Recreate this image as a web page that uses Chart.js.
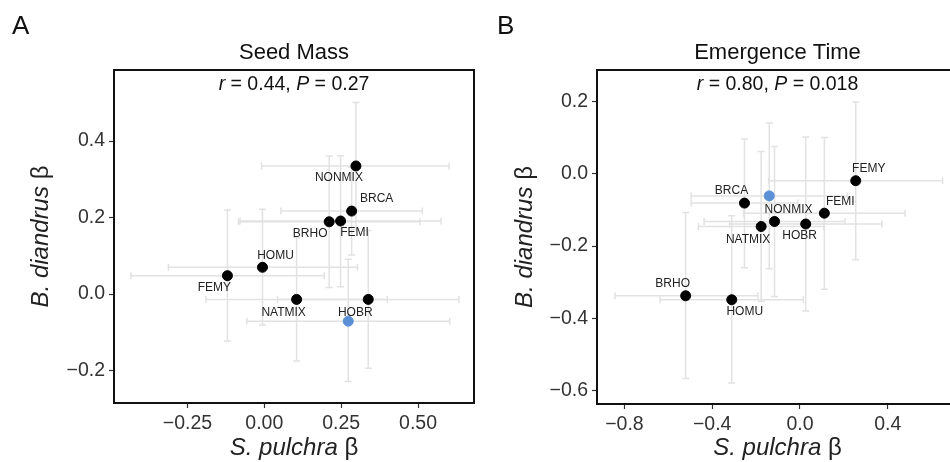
<!DOCTYPE html>
<html>
<head>
<meta charset="utf-8">
<script src="https://cdn.jsdelivr.net/npm/chart.js@4.4.1/dist/chart.umd.min.js"></script>
<style>
  html, body { margin: 0; padding: 0; background: #fff; overflow: hidden; }
  body { width: 950px; height: 462px; position: relative; }
  .panel { position: absolute; top: 0; height: 462px; }
  #panelA { left: 0; width: 480px; }
  #panelB { left: 480px; width: 490px; }
</style>
</head>
<body>
<div class="panel" id="panelA"><canvas id="chartA" width="480" height="462"></canvas></div>
<div class="panel" id="panelB"><canvas id="chartB" width="490" height="462"></canvas></div>
<script>
// A: seed mass
const seedSpecies = ["NONMIX", "BRCA", "BRHO", "FEMI", "HOMU", "FEMY", "NATMIX", "HOBR"];
const seedX   = [0.298, 0.284, 0.211, 0.248, -0.006, -0.120, 0.105, 0.338];
const seedXLo = [-0.009, 0.054, -0.084, -0.079, -0.312, -0.434, -0.190, 0.043];
const seedXHi = [0.601, 0.514, 0.506, 0.575, 0.303, 0.195, 0.400, 0.633];
const seedY   = [0.335, 0.217, 0.189, 0.191, 0.070, 0.048, -0.014, -0.014];
const seedYLo = [0.169, 0.102, 0.017, 0.019, -0.081, -0.123, -0.175, -0.194];
const seedYHi = [0.501, 0.332, 0.361, 0.362, 0.222, 0.220, 0.147, 0.166];
const seedRefXY   = [0.273, -0.071];
const seedRefXErr = [-0.057, 0.603];
const seedRefYErr = [-0.229, 0.091];
const seedXTicks = [-0.25, 0, 0.25, 0.5];
const seedYTicks = [-0.2, 0, 0.2, 0.4];

// B: emergence time
const emergSpecies = ["FEMY", "BRCA", "FEMI", "NONMIX", "HOBR", "NATMIX", "BRHO", "HOMU"];
const emergX   = [0.254, -0.253, 0.111, -0.116, 0.026, -0.177, -0.521, -0.311];
const emergXLo = [-0.142, -0.496, -0.257, -0.437, -0.321, -0.463, -0.843, -0.638];
const emergXHi = [0.650, -0.010, 0.479, 0.205, 0.373, 0.109, -0.192, 0.015];
const emergY   = [-0.019, -0.081, -0.109, -0.132, -0.139, -0.146, -0.338, -0.349];
const emergYLo = [-0.238, -0.260, -0.320, -0.340, -0.380, -0.354, -0.567, -0.580];
const emergYHi = [0.199, 0.097, 0.101, 0.076, 0.102, 0.062, -0.107, -0.116];
const emergRefXY   = [-0.140, -0.061];
const emergRefXErr = [-0.496, 0.216];
const emergRefYErr = [-0.263, 0.141];
const emergXTicks = [-0.8, -0.4, 0, 0.4];
const emergYTicks = [-0.6, -0.4, -0.2, 0, 0.2];

// label placement (pixel offsets from the point)
const seedLabelOffsets  = [[-17, 12], [25, -12], [-19, 12], [14, 12], [13, -12], [-13, 12], [-13, 13], [-13, 13]];
const emergLabelOffsets = [[13, -12], [-13, -12], [16, -12], [14, -12], [-6, 12], [-13, 13], [-13, -12], [13, 12]];

const FONT = '"Liberation Sans", Arial, Helvetica, sans-serif';
const BAR_COLOR = "#e2e2e2";
const TEXT_COLOR = "#333333";
const BLUE = "#5b8fd6";

function fmt(v, d) {
  const s = Math.abs(v).toFixed(d);
  return v < -1e-9 ? "\u2212" + s : s;
}

function drawRich(ctx, parts, x, y, size) {
  let w = 0;
  parts.forEach(p => {
    ctx.font = (p.italic ? "italic " : "") + size + "px " + FONT;
    w += ctx.measureText(p.t).width;
  });
  let cx = x - w / 2;
  ctx.textAlign = "left";
  ctx.textBaseline = "middle";
  parts.forEach(p => {
    ctx.font = (p.italic ? "italic " : "") + size + "px " + FONT;
    ctx.fillText(p.t, cx, y);
    cx += ctx.measureText(p.t).width;
  });
}

function errorBar(ctx, x1, y1, x2, y2, horizontal) {
  const cap = 3.5;
  ctx.beginPath();
  ctx.moveTo(x1, y1);
  ctx.lineTo(x2, y2);
  if (horizontal) {
    ctx.moveTo(x1, y1 - cap); ctx.lineTo(x1, y1 + cap);
    ctx.moveTo(x2, y2 - cap); ctx.lineTo(x2, y2 + cap);
  } else {
    ctx.moveTo(x1 - cap, y1); ctx.lineTo(x1 + cap, y1);
    ctx.moveTo(x2 - cap, y2); ctx.lineTo(x2 + cap, y2);
  }
  ctx.stroke();
}

function makeDecor(p) {
  return {
    id: "decor" + p.letter,
    beforeDatasetsDraw(chart) {
      const ctx = chart.ctx, xs = chart.scales.x, ys = chart.scales.y;
      ctx.save();
      ctx.strokeStyle = BAR_COLOR;
      ctx.lineWidth = 1.5;
      const xArr = p.x.concat([p.ref[0]]), yArr = p.y.concat([p.ref[1]]);
      const xLo = p.xLo.concat([p.refXErr[0]]), xHi = p.xHi.concat([p.refXErr[1]]);
      const yLo = p.yLo.concat([p.refYErr[0]]), yHi = p.yHi.concat([p.refYErr[1]]);
      xArr.forEach((xv, i) => {
        const px = xs.getPixelForValue(xv), py = ys.getPixelForValue(yArr[i]);
        errorBar(ctx, xs.getPixelForValue(xLo[i]), py, xs.getPixelForValue(xHi[i]), py, true);
        errorBar(ctx, px, ys.getPixelForValue(yLo[i]), px, ys.getPixelForValue(yHi[i]), false);
      });
      ctx.restore();
    },
    afterDatasetsDraw(chart) {
      const ctx = chart.ctx, xs = chart.scales.x, ys = chart.scales.y, a = chart.chartArea;
      ctx.save();
      ctx.fillStyle = "#222";
      ctx.font = "12px " + FONT;
      ctx.textAlign = "center";
      ctx.textBaseline = "middle";
      p.species.forEach((name, i) => {
        const off = p.offsets[i];
        ctx.fillText(name, xs.getPixelForValue(p.x[i]) + off[0], ys.getPixelForValue(p.y[i]) + off[1]);
      });
      ctx.strokeStyle = "#111";
      ctx.lineWidth = 2;
      ctx.strokeRect(a.left, a.top, a.right - a.left, a.bottom - a.top);
      ctx.restore();
    },
    afterDraw(chart) {
      const ctx = chart.ctx, a = chart.chartArea;
      const cx = (a.left + a.right) / 2, cy = (a.top + a.bottom) / 2;
      ctx.save();
      ctx.fillStyle = "#111";
      ctx.font = "26px " + FONT;
      ctx.textAlign = "left";
      ctx.textBaseline = "middle";
      ctx.fillText(p.letter, p.letterX, 27);
      ctx.textAlign = "center";
      ctx.font = "22px " + FONT;
      ctx.fillText(p.title, cx, 53);
      drawRich(ctx, p.stat, cx, 85, 19.5);
      ctx.fillStyle = "#222";
      drawRich(ctx, [{ t: "S. pulchra", italic: true }, { t: " \u03b2" }], cx, 448, 24);
      ctx.translate(p.yTitleX, cy);
      ctx.rotate(-Math.PI / 2);
      drawRich(ctx, [{ t: "B. diandrus", italic: true }, { t: " \u03b2" }], 0, 0, 24);
      ctx.restore();
    }
  };
}

function axis(pos, min, max, ticks, decimals, size) {
  return {
    type: "linear",
    position: pos,
    min: min,
    max: max,
    afterBuildTicks: s => { s.ticks = ticks.map(v => ({ value: v })); },
    afterFit: s => { if (pos === "bottom") s.height = size; else s.width = size; },
    grid: { display: true, drawOnChartArea: false, drawTicks: true, tickLength: 5, tickColor: "#333", tickWidth: 1.2 },
    border: { display: false },
    ticks: {
      color: TEXT_COLOR,
      font: { family: FONT, size: 19.5 },
      padding: 4,
      autoSkip: false,
      maxRotation: 0,
      callback: v => fmt(v, decimals)
    }
  };
}

function makeChart(id, p) {
  const black = p.x.map((xv, i) => ({ x: xv, y: p.y[i] }));
  new Chart(document.getElementById(id), {
    type: "scatter",
    data: {
      datasets: [
        { data: black, backgroundColor: "#000", borderColor: "#000", pointRadius: 5, pointHoverRadius: 5 },
        { data: [{ x: p.ref[0], y: p.ref[1] }], backgroundColor: BLUE, borderColor: BLUE, pointRadius: 5, pointHoverRadius: 5 }
      ]
    },
    options: {
      responsive: false,
      animation: false,
      layout: { padding: p.padding },
      plugins: { legend: { display: false }, tooltip: { enabled: false }, title: { display: false } },
      scales: {
        x: axis("bottom", p.xMin, p.xMax, p.xTicks, p.xDec, p.xAxisH),
        y: axis("left", p.yMin, p.yMax, p.yTicks, 1, p.yAxisW)
      }
    },
    plugins: [makeDecor(p)]
  });
}

makeChart("chartA", {
  letter: "A", letterX: 12, yTitleX: 41,
  title: "Seed Mass",
  stat: [{ t: "r", italic: true }, { t: " = 0.44, " }, { t: "P", italic: true }, { t: " = 0.27" }],
  species: seedSpecies, x: seedX, y: seedY, xLo: seedXLo, xHi: seedXHi, yLo: seedYLo, yHi: seedYHi,
  ref: seedRefXY, refXErr: seedRefXErr, refYErr: seedRefYErr, offsets: seedLabelOffsets,
  xMin: -0.489, xMax: 0.682, yMin: -0.285, yMax: 0.586,
  xTicks: seedXTicks, yTicks: seedYTicks, xDec: 2,
  padding: { left: 0, right: 5, top: 70, bottom: 0 }, yAxisW: 114, xAxisH: 59
});

makeChart("chartB", {
  letter: "B", letterX: 17, yTitleX: 45,
  title: "Emergence Time",
  stat: [{ t: "r", italic: true }, { t: " = 0.80, " }, { t: "P", italic: true }, { t: " = 0.018" }],
  species: emergSpecies, x: emergX, y: emergY, xLo: emergXLo, xHi: emergXHi, yLo: emergYLo, yHi: emergYHi,
  ref: emergRefXY, refXErr: emergRefXErr, refYErr: emergRefYErr, offsets: emergLabelOffsets,
  xMin: -0.925, xMax: 0.72, yMin: -0.638, yMax: 0.288,
  xTicks: emergXTicks, yTicks: emergYTicks, xDec: 1,
  padding: { left: 0, right: 12, top: 70, bottom: 0 }, yAxisW: 117, xAxisH: 58
});
</script>
</body>
</html>
